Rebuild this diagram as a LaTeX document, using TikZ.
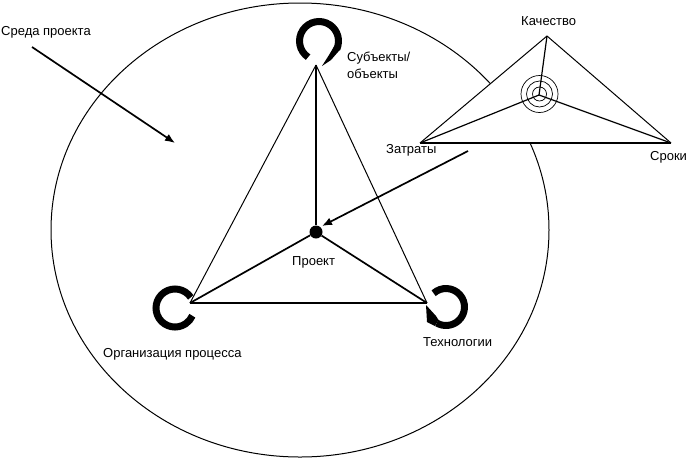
\documentclass[tikz,border=0pt]{standalone}
\usepackage{fontspec}
\setmainfont{Liberation Sans}
\usetikzlibrary{arrows.meta,positioning}

\begin{document}
\begin{tikzpicture}[
x=1pt, y=-1pt,
lbl/.style={inner sep=0pt, align=left, font=\fontsize{13}{17}\selectfont},
side/.style={line width=1pt},
spoke/.style={line width=1.7pt},
ring/.style={line width=7pt},
arr/.style={-{Latex[length=10pt,width=8pt]}, line width=1.7pt}
]
\useasboundingbox (0,0) rectangle (687,461);
\draw[line width=1pt] (300,230) ellipse [x radius=249, y radius=227];
% rings
\draw[ring] ([shift={(319,41)}] 124:19.5) arc [start angle=124, end angle=385, radius=19.5];
\fill (322,66) -- (331,60) -- (340.6,49) -- (334,46.5) -- (329,55) -- cycle;
\draw[ring] ([shift={(175,308)}] -34:19) arc [start angle=-34, end angle=-336, radius=19];
\draw[ring] ([shift={(446,307)}] 228:18.5) arc [start angle=228, end angle=480, radius=18.5];
\fill (426,305) -- (427,322) -- (435,326) -- (438.5,320) -- (436,316) -- cycle;
% main triangle
\coordinate (subj) at (316,65);
\coordinate (org) at (190,303);
\coordinate (tech) at (427,303);
\node[circle, fill, inner sep=0pt, minimum size=13pt] (proj) at (316,232) {};
\draw[side] (subj) -- (org);
\draw[side] (subj) -- (tech);
\draw[spoke] (org) -- (tech);
\draw[spoke] (subj) -- (proj);
\draw[spoke] (org) -- (proj);
\draw[spoke] (tech) -- (proj);
% small triangle
\coordinate (qual) at (547,36);
\coordinate (cost) at (420,143);
\coordinate (time) at (671,143);
\coordinate (mid) at (539,95);
\fill[white] (qual) -- (cost) -- (time) -- cycle;
\draw[side] (qual) -- (cost);
\draw[side] (qual) -- (time);
\draw[spoke] (cost) -- (time);
\draw[line width=1.2pt] (qual) -- (mid);
\draw[line width=1.2pt] (cost) -- (mid);
\draw[line width=1.2pt] (time) -- (mid);
\foreach \r in {7,13,18.5}
  \draw[line width=.7pt] (539.5,94) circle (\r);
% labels
\node[lbl, anchor=west] (env) at (1,32) {Среда проекта};
\node[lbl, anchor=west] (subjl) at (347,65) {Субъекты/\\объекты};
\node[lbl, anchor=west] (orgl) at (103,354) {Организация процесса};
\node[lbl, anchor=west] (techl) at (423,342) {Технологии};
\node[lbl, anchor=west] (projl) at (292,262) {Проект};
\node[lbl, anchor=west] (quall) at (521,21) {Качество};
\node[lbl, anchor=west] (costl) at (386,150) {Затраты};
\node[lbl, anchor=west] (timel) at (650,157) {Сроки};
% arrows
\coordinate (envs) at (32,47);
\coordinate (envt) at (175,143);
\coordinate (tris) at (468,151);
\coordinate (trit) at (322,226);
\draw[arr] (envs) -- (envt);
\draw[arr] (tris) -- (trit);
\end{tikzpicture}
\end{document}
